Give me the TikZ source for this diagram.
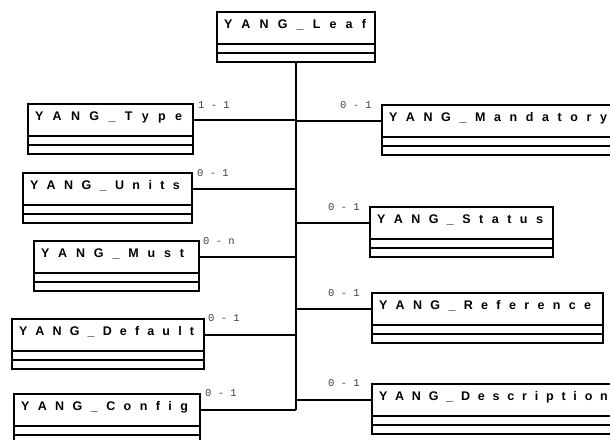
\documentclass[tikz,border=0pt]{standalone}
\usepackage{fontspec}
\newfontfamily\namefont{Liberation Sans}
\newfontfamily\multfont{Liberation Mono}
\makeatletter
\def\spcd#1#2{\def\spcd@k{#1}\spcd@i#2\relax}
\def\spcd@i#1{\ifx#1\relax\else#1\kern\spcd@k pt\relax\expandafter\spcd@i\fi}
\makeatother
\newcommand\umlbox[6]{%
  \pgfmathsetmacro\umltw{#4-14}%
  \node[titlebox, minimum width=#4pt, text width=\umltw pt] (#1) at (#2,#3) {\spcd{#6}{#5}};
  \node[compbox, minimum width=#4pt] (#1A) at (#1.south west) {};
  \node[compbox, minimum width=#4pt] (#1B) at (#1A.south west) {};
}
\begin{document}
\begin{tikzpicture}[x=1pt,y=-1pt,
  titlebox/.style={draw, line width=1.7pt, outer sep=0pt, anchor=north west,
    minimum height=32pt, inner xsep=7pt, inner ysep=5pt,
    text height=11.5pt, text depth=10.5pt, align=left,
    font=\namefont\bfseries\fontsize{12.5}{14}\selectfont},
  compbox/.style={draw, line width=1.7pt, outer sep=0pt, anchor=north west,
    minimum height=9pt, inner sep=0pt},
  link/.style={line width=1.7pt},
  trunk/.style={line width=2.6pt},
  mult/.style={font=\multfont\fontsize{10.5}{12}\selectfont, text=black!75,
    inner sep=0pt, anchor=west}]
\useasboundingbox (0,0) rectangle (610,439);
\fill[white] (0,0) rectangle (610,439);
\clip (0,0) rectangle (610,439);

\umlbox{leaf}{217}{12}{158}{YANG\_Leaf}{9.15}
\umlbox{type}{28}{104}{165}{YANG\_Type}{9.35}
\umlbox{units}{23}{173}{169}{YANG\_Units}{8.4}
\umlbox{must}{34}{241}{165}{YANG\_Must}{8.85}
\umlbox{default}{12}{319}{192}{YANG\_Default}{8.15}
\umlbox{config}{14}{394}{186}{YANG\_Config}{8.44}
\umlbox{mand}{382}{105}{243}{YANG\_Mandatory}{8.6}
\umlbox{status}{370}{207}{183}{YANG\_Status}{8.47}
\umlbox{ref}{372}{293}{231}{YANG\_Reference}{8.35}
\umlbox{desc}{372}{384}{253}{YANG\_Description}{7.8}

\draw[trunk] (leafB.south) -- (leafB.south |- config.east);
\foreach \n in {type,units,must,default,config}
  \draw[link] (\n.east) -- (\n.east -| leafB.south);
\foreach \n in {mand,status,ref,desc}
  \draw[link] (\n.west) -- (\n.west -| leafB.south);

\node[mult] (mtype) at (198,105) {1 - 1};
\node[mult] (munits) at (197,173) {0 - 1};
\node[mult] (mmust) at (203,241) {0 - n};
\node[mult] (mdefault) at (208,318) {0 - 1};
\node[mult] (mconfig) at (205,393) {0 - 1};
\node[mult] (mmand) at (340,105) {0 - 1};
\node[mult] (mstatus) at (328,207) {0 - 1};
\node[mult] (mref) at (328,293) {0 - 1};
\node[mult] (mdesc) at (328,383) {0 - 1};
\end{tikzpicture}
\end{document}
